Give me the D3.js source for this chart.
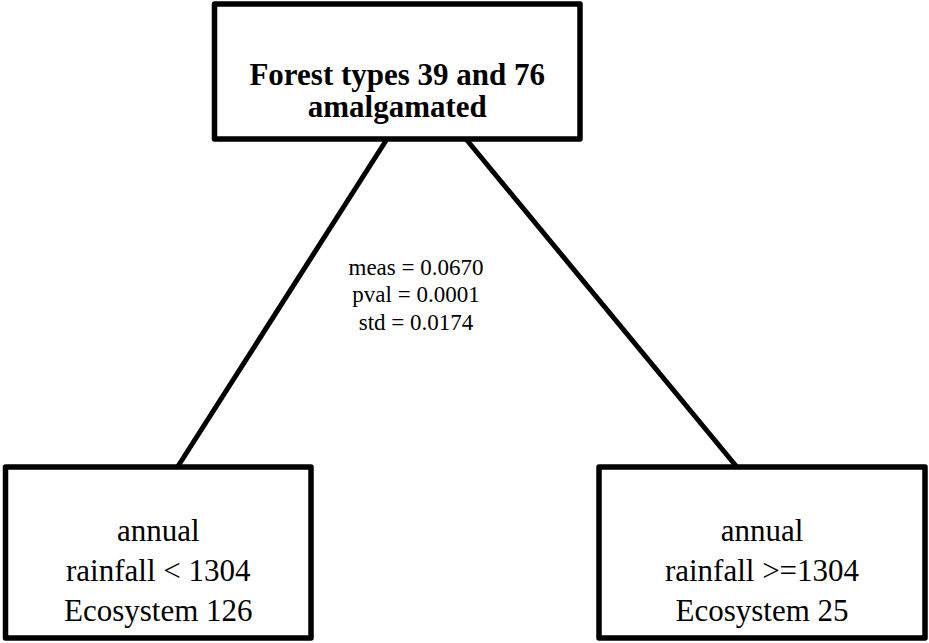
<!DOCTYPE html>
<html>
<head>
<meta charset="utf-8">
<script src="https://cdn.jsdelivr.net/npm/d3@7/dist/d3.min.js"></script>
<style>
  html, body { margin: 0; padding: 0; background: #fff; }
  svg { display: block; }
</style>
</head>
<body>
<svg id="chart" width="929" height="643"></svg>
<script>
// ---- data ----
const nodeIds = ["root", "left", "right"];
const nodeLabels = [
  ["Forest types 39 and 76", "amalgamated"],
  ["annual", "rainfall < 1304", "Ecosystem 126"],
  ["annual", "rainfall >=1304", "Ecosystem 25"]
];
const nodeParents = [null, "root", "root"];
const splitStats = ["meas = 0.0670", "pval = 0.0001", "std = 0.0174"];

// ---- layout (pixel space, kept separate from data) ----
const FONT = "'Liberation Serif', 'Times New Roman', Times, serif";
const layout = {
  root:  { x0: 214.5, x1: 580, y0: 4,   y1: 139, font: 31, weight: "bold",   lineH: 32, base: 85,  attach: [0.472, 0.688] },
  left:  { x0: 5.5,   x1: 311, y0: 467, y1: 638, font: 31, weight: "normal", lineH: 40, base: 541, attach: [0.563] },
  right: { x0: 599,   x1: 925, y0: 467, y1: 638, font: 31, weight: "normal", lineH: 40, base: 541, attach: [0.423] }
};
const statsLayout = { cx: 416, base: 274.5, lineH: 27.5, font: 23 };

const svg = d3.select("#chart");

// hierarchy from data
const root = d3.stratify()
  .id(d => d.id)
  .parentId(d => d.parent)(nodeLabels.map((l, i) => ({ id: nodeIds[i], parent: nodeParents[i], lines: l })));

// scale mapping fractional box positions to pixels
function xScale(id) { const b = layout[id]; return d3.scaleLinear().domain([0, 1]).range([b.x0, b.x1]); }

// links
svg.append("g").selectAll("line")
  .data(root.links())
  .join("line")
  .attr("x1", d => {
    const idx = d.source.children.indexOf(d.target);
    return xScale(d.source.id)(layout[d.source.id].attach[idx]);
  })
  .attr("y1", d => layout[d.source.id].y1)
  .attr("x2", d => xScale(d.target.id)(layout[d.target.id].attach[0]))
  .attr("y2", d => layout[d.target.id].y0)
  .attr("stroke", "#000")
  .attr("stroke-width", 5);

// boxes
const nodes = svg.append("g").selectAll("g")
  .data(root.descendants())
  .join("g");

nodes.append("rect")
  .attr("x", d => layout[d.id].x0)
  .attr("y", d => layout[d.id].y0)
  .attr("width", d => layout[d.id].x1 - layout[d.id].x0)
  .attr("height", d => layout[d.id].y1 - layout[d.id].y0)
  .attr("fill", "#fff")
  .attr("stroke", "#000")
  .attr("stroke-width", 5.5)
  .attr("stroke-linejoin", "round");

nodes.each(function (d) {
  const b = layout[d.id];
  const cx = xScale(d.id)(0.5);
  d3.select(this).selectAll("text")
    .data(d.data.lines)
    .join("text")
    .attr("x", cx)
    .attr("y", (t, i) => b.base + i * b.lineH)
    .attr("text-anchor", "middle")
    .style("font-family", FONT)
    .style("font-size", b.font + "px")
    .style("font-weight", b.weight)
    .attr("fill", "#000")
    .text(t => t);
});

// split statistics
svg.append("g").selectAll("text")
  .data(splitStats)
  .join("text")
  .attr("x", statsLayout.cx)
  .attr("y", (t, i) => statsLayout.base + i * statsLayout.lineH)
  .attr("text-anchor", "middle")
  .style("font-family", FONT)
  .style("font-size", statsLayout.font + "px")
  .attr("fill", "#000")
  .text(t => t);
</script>
</body>
</html>
